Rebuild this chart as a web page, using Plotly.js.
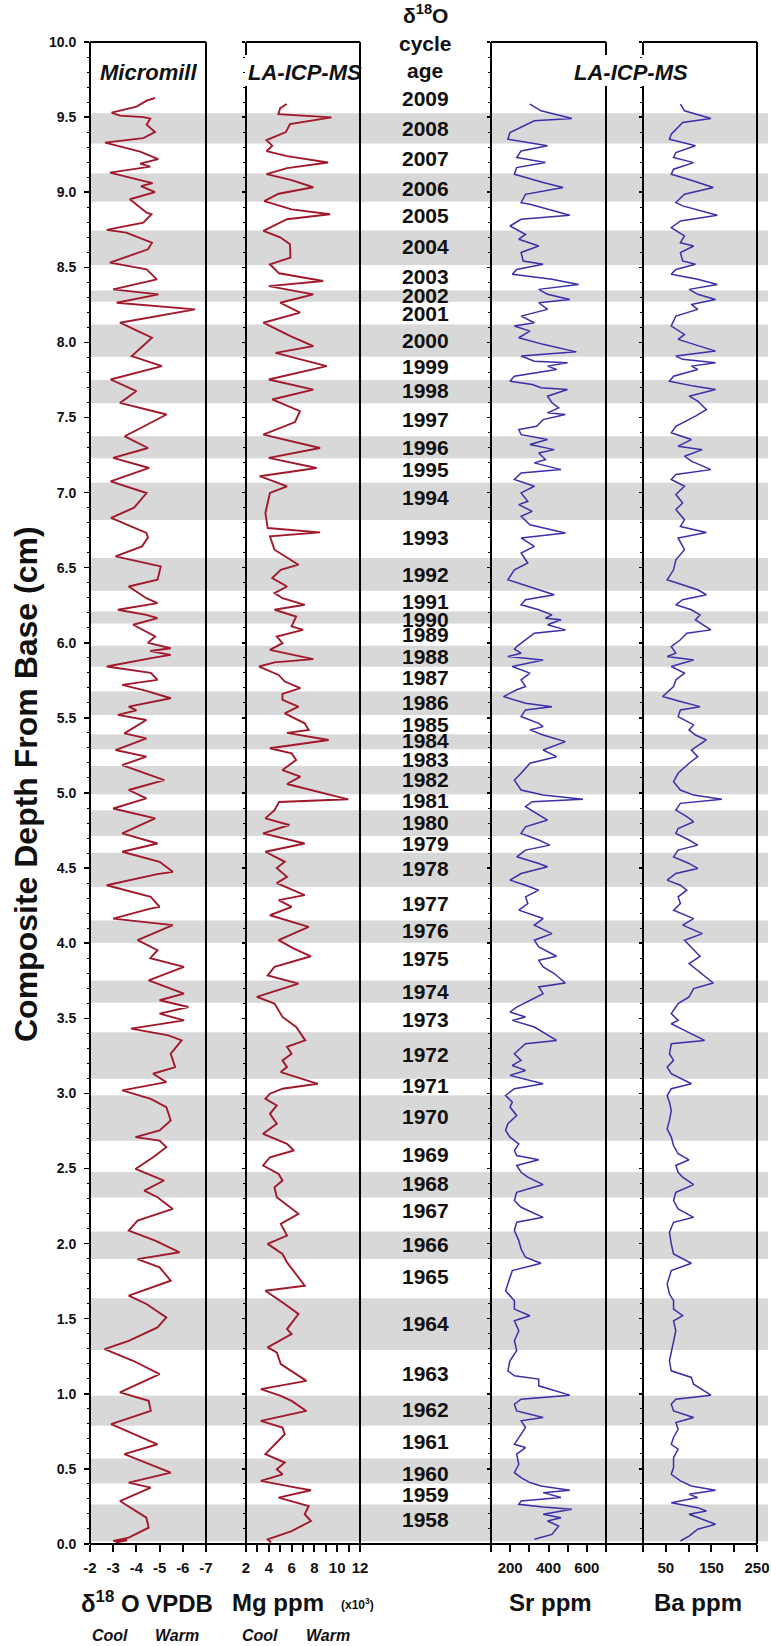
<!DOCTYPE html>
<html><head><meta charset="utf-8">
<script src="https://cdn.plot.ly/plotly-3.0.1.min.js"></script>
<style>html,body{margin:0;padding:0;background:#fff}#chart{width:771px;height:1646px}</style>
</head><body><div id="chart"></div>
<script>
// ---------------- data ----------------
const o18_depth = [
9.627,9.61,9.57,9.53,9.51,9.50,9.49,9.45,9.40,9.36,
9.33,9.27,9.22,9.19,9.17,9.13,9.08,9.06,9.04,9.00,
8.953,8.864,8.853,8.797,8.749,8.731,8.664,8.62,8.531,8.486,
8.42,8.353,8.32,8.264,8.22,8.131,8.031,7.909,7.842,7.753,
7.676,7.597,7.52,7.397,7.375,7.297,7.231,7.164,7.075,6.997,
6.90,6.831,6.731,6.70,6.642,6.575,6.509,6.42,6.375,6.297,
6.264,6.22,6.186,6.164,6.12,6.042,6.00,5.964,5.945,5.92,
5.90,5.842,5.80,5.753,5.72,5.68,5.631,5.575,5.55,5.52,
5.486,5.397,5.364,5.286,5.242,5.186,5.086,5.02,4.964,4.897,
4.831,4.731,4.664,4.609,4.542,4.475,4.46,4.386,4.309,4.242,
4.23,4.164,4.12,4.02,3.953,3.90,3.842,3.753,3.664,3.62,
3.575,3.531,3.486,3.431,3.386,3.353,3.264,3.175,3.131,3.075,
3.02,2.964,2.909,2.82,2.753,2.709,2.686,2.642,2.575,2.497,
2.42,2.353,2.309,2.231,2.153,2.087,2.02,1.942,1.897,1.842,
1.753,1.653,1.598,1.509,1.442,1.353,1.298,1.22,1.131,1.009,
0.953,0.886,0.798,0.664,0.598,0.475,0.409,0.375,0.286,0.175,
0.109,0.042,0.02,0.025,0.01];
const o18_value = [
-4.80,-4.44,-4.01,-2.93,-3.29,-4.30,-4.60,-4.44,-4.80,-4.30,
-2.65,-4.16,-4.94,-4.16,-4.60,-2.86,-4.16,-4.70,-4.20,-4.80,
-3.72,-4.44,-4.65,-4.30,-2.72,-3.56,-4.67,-4.50,-2.86,-4.44,
-4.88,-3.00,-4.95,-3.15,-6.53,-3.29,-4.67,-3.80,-5.10,-2.89,
-4.00,-3.29,-5.30,-3.80,-3.50,-4.50,-3.00,-4.55,-2.89,-4.44,
-3.90,-2.91,-4.43,-4.50,-4.24,-3.10,-5.05,-4.91,-3.67,-4.43,
-4.91,-3.20,-4.43,-4.91,-3.86,-4.81,-4.50,-5.48,-4.60,-5.48,
-4.70,-2.72,-4.62,-4.91,-3.39,-4.43,-5.48,-3.67,-4.00,-3.20,
-4.43,-3.48,-4.43,-3.10,-4.43,-3.39,-5.20,-3.67,-4.43,-3.00,
-4.81,-3.39,-4.91,-3.39,-5.00,-5.57,-4.90,-2.72,-4.62,-5.00,
-4.60,-3.00,-5.57,-4.05,-4.91,-4.60,-6.05,-4.53,-6.05,-5.00,
-6.24,-5.00,-6.05,-3.77,-5.38,-5.95,-5.48,-5.67,-4.72,-5.29,
-3.39,-4.62,-5.29,-5.48,-5.00,-3.96,-5.00,-5.29,-4.72,-3.96,
-5.19,-4.34,-4.91,-5.57,-4.05,-3.67,-4.81,-5.86,-4.05,-5.00,
-5.48,-3.67,-4.43,-5.29,-4.91,-3.67,-2.63,-3.86,-5.00,-3.29,
-4.53,-4.62,-2.91,-4.91,-3.48,-5.48,-3.67,-4.62,-3.29,-4.43,
-4.53,-3.67,-3.00,-3.60,-3.10];

const mg_depth = [
9.587,9.56,9.52,9.498,9.453,9.40,9.347,9.31,9.273,9.24,
9.198,9.16,9.12,9.08,9.033,8.99,8.94,8.886,8.853,8.82,
8.742,8.70,8.653,8.564,8.52,8.46,8.409,8.375,8.32,8.264,
8.198,8.131,8.042,7.975,7.93,7.842,7.753,7.686,7.62,7.542,
7.47,7.386,7.297,7.231,7.164,7.109,7.042,6.998,6.864,6.764,
6.735,6.709,6.62,6.52,6.486,6.431,6.375,6.331,6.297,6.253,
6.22,6.175,6.109,6.086,6.042,5.998,5.953,5.891,5.87,5.842,
5.786,5.742,5.698,5.66,5.62,5.575,5.53,5.464,5.42,5.40,
5.353,5.298,5.264,5.22,5.153,5.109,5.06,4.958,4.94,4.886,
4.831,4.787,4.731,4.664,4.609,4.542,4.50,4.442,4.40,4.32,
4.287,4.242,4.186,4.109,4.02,3.964,3.913,3.842,3.786,3.731,
3.642,3.598,3.509,3.442,3.353,3.31,3.264,3.22,3.175,3.142,
3.064,3.031,2.998,2.964,2.92,2.864,2.798,2.731,2.664,2.62,
2.575,2.52,2.464,2.42,2.375,2.309,2.198,2.131,2.053,1.998,
1.931,1.875,1.72,1.686,1.598,1.531,1.431,1.398,1.309,1.275,
1.198,1.086,1.031,0.986,0.953,0.886,0.82,0.775,0.731,0.598,
0.542,0.498,0.464,0.42,0.375,0.358,0.309,0.253,0.198,0.153,
0.086,0.031,0.01];
const mg_value = [
5.57,5.0,4.84,9.50,5.86,5.50,3.80,4.3,3.80,5.6,
9.20,5.6,3.80,6.0,7.90,4.86,3.6,6.0,9.37,5.6,
3.52,5.0,5.86,5.90,4.10,4.9,8.77,4.00,7.90,5.00,
6.74,3.52,5.90,7.90,4.60,9.08,4.00,7.90,4.30,6.74,
6.3,3.52,8.50,4.00,8.20,3.20,5.60,4.10,3.70,3.90,
8.50,4.10,4.50,6.60,5.05,4.30,5.60,4.50,5.20,7.15,
4.50,6.40,6.00,7.00,4.70,5.20,4.10,7.90,4.5,3.15,
4.86,5.40,6.77,5.2,5.20,6.60,5.4,7.15,7.50,5.6,
9.25,4.10,6.00,6.40,5.20,6.77,5.6,10.97,4.9,4.50,
3.70,5.80,3.50,7.15,3.70,5.40,4.7,5.60,4.7,7.15,
4.86,6.00,4.10,7.50,4.86,6.20,7.70,4.50,3.90,6.60,
2.95,4.50,5.20,6.40,7.2,5.6,6.0,5.2,5.6,5.05,
8.3,5.2,4.1,3.7,4.7,4.1,4.7,3.5,5.6,6.2,
4.1,3.5,4.86,5.2,4.5,4.7,6.6,5.05,5.6,3.9,
5.2,5.6,7.15,3.7,5.4,6.6,5.6,6.0,3.9,4.7,
5.05,7.3,3.3,5.05,6.0,7.3,3.3,5.2,5.4,3.7,
5.4,4.7,5.2,3.3,6.4,7.7,4.86,7.5,7.15,7.7,
6.0,3.9,4.2];

const sr_depth = [
9.586,9.542,9.491,9.475,9.397,9.353,9.309,9.275,9.231,9.197,
9.164,9.12,9.064,9.031,8.986,8.93,8.92,8.846,8.82,8.775,
8.72,8.687,8.642,8.598,8.542,8.52,8.486,8.453,8.42,8.386,
8.353,8.32,8.286,8.264,8.22,8.175,8.131,8.109,8.075,8.031,
7.987,7.937,7.909,7.875,7.864,7.842,7.82,7.775,7.742,7.72,
7.698,7.686,7.642,7.598,7.564,7.531,7.52,7.486,7.442,7.42,
7.386,7.353,7.32,7.286,7.264,7.22,7.198,7.153,7.131,7.087,
7.042,6.998,6.942,6.92,6.875,6.842,6.786,6.731,6.698,6.642,
6.598,6.531,6.486,6.42,6.353,6.32,6.287,6.253,6.22,6.186,
6.164,6.153,6.12,6.086,6.064,6.02,5.975,5.958,5.931,5.909,
5.886,5.842,5.798,5.753,5.709,5.687,5.642,5.598,5.575,5.553,
5.509,5.464,5.442,5.42,5.386,5.342,5.286,5.242,5.198,5.131,
5.086,5.02,4.986,4.958,4.942,4.909,4.864,4.82,4.775,4.731,
4.687,4.653,4.62,4.575,4.531,4.509,4.464,4.42,4.386,4.353,
4.309,4.264,4.22,4.164,4.12,4.064,4.02,3.975,3.913,3.886,
3.842,3.798,3.735,3.709,3.664,3.62,3.575,3.542,3.509,3.486,
3.442,3.353,3.331,3.264,3.22,3.186,3.153,3.12,3.064,3.031,
2.986,2.942,2.909,2.853,2.798,2.753,2.709,2.664,2.62,2.586,
2.558,2.52,2.475,2.442,2.393,2.342,2.287,2.242,2.175,2.142,
2.087,2.02,1.964,1.909,1.869,1.82,1.731,1.686,1.62,1.564,
1.52,1.486,1.42,1.353,1.287,1.22,1.153,1.12,1.098,1.053,
0.991,0.964,0.931,0.886,0.842,0.82,0.775,0.709,0.664,0.642,
0.598,0.531,0.475,0.442,0.409,0.386,0.358,0.342,0.309,0.287,
0.264,0.246,0.231,0.198,0.175,0.153,0.12,0.064,0.031];
const sr_value = [
303,361,522,326,199,188,395,257,234,384,
234,222,372,476,280,257,303,511,257,199,
280,245,349,257,268,372,234,211,418,557,
349,395,511,349,395,257,326,222,303,245,
372,545,257,326,499,395,442,222,199,315,
361,499,395,418,453,395,488,372,338,245,
257,395,303,430,349,384,326,465,257,222,
326,257,292,245,315,257,303,488,257,326,
257,292,222,188,349,430,280,257,349,418,
384,465,395,488,326,280,234,222,257,188,
372,211,303,257,280,234,165,280,418,280,
257,349,372,303,372,488,372,442,303,257,
222,257,372,580,315,280,338,395,280,257,
349,407,280,234,349,395,257,199,280,349,
280,292,245,372,326,418,326,349,442,349,
372,430,488,349,372,303,234,199,280,211,
326,442,280,222,257,211,280,199,372,222,
176,211,199,234,188,176,199,245,222,234,
349,234,257,292,372,234,222,257,372,234,
222,245,257,280,361,211,188,176,222,222,
303,222,245,222,234,199,188,222,349,349,
511,257,222,234,372,257,280,245,222,280,
234,245,222,257,303,361,511,372,465,257,
245,372,522,372,465,395,453,418,326];

const ba_depth = [
9.586,9.542,9.491,9.464,9.386,9.353,9.309,9.264,9.231,9.197,
9.153,9.12,9.075,9.031,8.986,8.931,8.909,8.846,8.809,8.764,
8.709,8.664,8.642,8.598,8.542,8.52,8.486,8.453,8.42,8.386,
8.353,8.32,8.286,8.253,8.22,8.175,8.109,8.053,8.02,7.942,
7.909,7.887,7.864,7.842,7.82,7.775,7.742,7.709,7.686,7.642,
7.609,7.553,7.509,7.442,7.398,7.353,7.309,7.286,7.242,7.209,
7.153,7.12,7.087,7.042,6.987,6.931,6.887,6.82,6.775,6.735,
6.698,6.62,6.553,6.486,6.42,6.353,6.32,6.287,6.253,6.22,
6.186,6.153,6.086,6.064,6.02,5.975,5.931,5.909,5.886,5.842,
5.798,5.753,5.709,5.642,5.609,5.575,5.553,5.509,5.453,5.42,
5.386,5.353,5.286,5.242,5.198,5.131,5.075,5.02,4.986,4.958,
4.931,4.886,4.842,4.809,4.764,4.731,4.687,4.653,4.62,4.575,
4.531,4.498,4.464,4.42,4.386,4.353,4.309,4.264,4.22,4.164,
4.12,4.064,4.02,3.975,3.913,3.864,3.82,3.735,3.698,3.642,
3.598,3.531,3.486,3.464,3.42,3.353,3.331,3.264,3.22,3.175,
3.131,3.064,3.031,2.986,2.942,2.886,2.82,2.764,2.709,2.653,
2.598,2.558,2.52,2.475,2.442,2.393,2.342,2.287,2.231,2.175,
2.142,2.075,1.998,1.931,1.869,1.82,1.731,1.664,1.62,1.564,
1.52,1.486,1.42,1.353,1.287,1.22,1.153,1.109,1.064,0.991,
0.964,0.931,0.886,0.842,0.809,0.764,0.709,0.664,0.631,0.575,
0.509,0.464,0.42,0.386,0.358,0.331,0.309,0.275,0.242,0.22,
0.198,0.164,0.131,0.098,0.053,0.02];
const ba_value = [
82,91,149,87,62,58,115,72,67,111,
67,62,111,154,91,72,87,163,82,62,
91,82,111,82,87,115,72,62,120,163,
101,120,159,106,120,72,62,91,77,159,
72,87,159,106,120,67,58,111,159,101,
120,139,115,72,62,106,77,130,91,106,
149,72,62,91,72,87,72,91,82,139,
77,91,72,67,53,120,139,87,72,106,
125,115,149,96,82,62,72,53,111,62,
91,72,67,43,82,125,82,77,111,101,
115,139,106,120,101,77,67,82,111,173,
82,72,96,111,77,72,101,120,77,67,
101,120,72,53,82,96,77,82,67,111,
87,130,91,106,125,101,120,154,111,101,
77,62,77,62,91,135,62,58,67,53,
62,106,62,53,58,62,58,53,62,67,
77,101,72,77,87,111,72,67,77,111,
67,58,62,67,106,62,53,58,67,67,
87,67,72,67,62,58,62,106,111,149,
72,62,67,111,72,77,67,62,77,67,
67,62,82,106,159,101,120,62,120,139,
101,130,159,120,101,82];

// grey bands (δ18O cycles), depth in cm
const band_top    = [9.525,9.125,8.745,8.345,8.12,7.75,7.375,7.065,6.565,6.209,5.98,5.676,5.391,5.18,4.885,4.603,4.151,3.751,3.407,2.987,2.476,2.08,1.636,0.987,0.569,0.263];
const band_bottom = [9.325,8.936,8.515,8.27,7.905,7.595,7.228,6.818,6.347,6.129,5.84,5.52,5.291,4.991,4.714,4.374,4.003,3.603,3.098,2.685,2.307,1.898,1.291,0.787,0.403,0.018];

// cycle age labels
const years = [2009,2008,2007,2006,2005,2004,2003,2002,2001,2000,1999,1998,1997,1996,1995,1994,1993,1992,1991,1990,1989,1988,1987,1986,1985,1984,1983,1982,1981,1980,1979,1978,1977,1976,1975,1974,1973,1972,1971,1970,1969,1968,1967,1966,1965,1964,1963,1962,1961,1960,1959,1958];
const year_depth = [9.625,9.425,9.225,9.025,8.847,8.636,8.44,8.314,8.191,8.014,7.84,7.68,7.485,7.303,7.151,6.965,6.698,6.458,6.276,6.158,6.054,5.907,5.769,5.603,5.458,5.347,5.225,5.087,4.947,4.803,4.663,4.496,4.263,4.085,3.898,3.676,3.491,3.258,3.051,2.847,2.591,2.403,2.218,1.996,1.78,1.465,1.136,0.898,0.685,0.469,0.329,0.165];

// axis ticks
const o18_ticks = [-2,-3,-4,-5,-6,-7];
const mg_ticks = [2,3,4,5,6,7,8,9,10,11,12];
const mg_labels = ['2','','4','','6','','8','','10','','12'];
const sr_ticks = [100,200,300,400,500,600,700];
const sr_labels = ['','200','','400','','600',''];
const ba_ticks = [0,50,100,150,200,250];
const ba_labels = ['','50','','150','','250'];

// ---------------- layout ----------------
const W = 771, H = 1646;
const px = x => x / W;
const py = y => 1 - y / H;
const FONT = 'Liberation Sans, Arial, Helvetica, sans-serif';
const RED = '#a0182a', BLUE = '#3a2fa8';
const TOP = 42, BOT = 1544;
const P = [[90,206],[246,360],[491,606],[643,757]];

function xax(i, range, tv, tt) {
  return {domain:[px(P[i][0]), px(P[i][1])], range: range, anchor: i===0?'y':'y'+(i+1),
    tickmode:'array', tickvals: tv, ticktext: tt, ticks:'outside', ticklen:7, tickwidth:2, tickcolor:'#000',
    showline:false, showgrid:false, zeroline:false, fixedrange:true,
    tickfont:{family:FONT, size:15, color:'#111', weight:'bold'}, ticklabelstandoff:3};
}
function yax(i) {
  return {domain:[py(BOT), py(TOP)], range:[0,10], anchor: i===0?'x':'x'+(i+1),
    tickmode:'linear', tick0:0, dtick:0.5, tickformat:'.1f', ticks:'outside', ticklen: i===0?5:3, tickwidth:1.5, tickcolor:'#000',
    minor:{dtick:0.1, ticks:'outside', ticklen:2.5, tickwidth:1, tickcolor:'#000'},
    showticklabels: i===0, showline:false, showgrid:false, zeroline:false, fixedrange:true,
    tickfont:{family:FONT, size:14, color:'#111', weight:'bold'}, ticklabelstandoff:5};
}

const traces = [
  {x:o18_value, y:o18_depth, xaxis:'x', yaxis:'y', mode:'lines', line:{color:RED, width:1.9}},
  {x:mg_value, y:mg_depth, xaxis:'x2', yaxis:'y2', mode:'lines', line:{color:RED, width:1.9}},
  {x:sr_value, y:sr_depth, xaxis:'x3', yaxis:'y3', mode:'lines', line:{color:BLUE, width:1.5}},
  {x:ba_value, y:ba_depth, xaxis:'x4', yaxis:'y4', mode:'lines', line:{color:BLUE, width:1.5}}
];

const shapes = [];
for (let i = 0; i < band_top.length; i++) {
  shapes.push({type:'rect', layer:'below', xref:'paper', yref:'y', x0:px(90), x1:px(768), y0:band_bottom[i], y1:band_top[i],
    fillcolor:'#d8d8d8', line:{width:0}});
}
function ln(x0,y0,x1,y1){ shapes.push({type:'line', xref:'paper', yref:'paper', x0:px(x0), y0:py(y0), x1:px(x1), y1:py(y1), line:{color:'#000', width:2}}); }
// frames
ln(90,TOP,206,TOP); ln(90,TOP,90,BOT); ln(206,TOP,206,BOT);
ln(246,TOP,360,TOP); ln(246,TOP,246,55); ln(246,86,246,BOT); ln(360,TOP,360,BOT);
ln(491,TOP,606,TOP); ln(491,TOP,491,BOT); ln(606,TOP,606,55); ln(606,86,606,BOT);
ln(643,TOP,757,TOP); ln(643,TOP,643,55); ln(643,86,643,BOT); ln(757,TOP,757,BOT);
ln(90,BOT,757,BOT);

const ann = [];
function txt(x, y, text, size, extra) {
  ann.push(Object.assign({xref:'paper', yref:'paper', x:px(x), y:py(y), text:text, showarrow:false,
    xanchor:'center', yanchor:'middle', font:{family:FONT, size:size, color:'#111'}}, extra||{}));
}
for (let i = 0; i < years.length; i++) {
  ann.push({xref:'paper', yref:'y', x:px(425), y:year_depth[i], text:'<b>'+years[i]+'</b>', showarrow:false,
    xanchor:'center', yanchor:'middle', font:{family:FONT, size:21, color:'#111'}});
}
txt(425, 14, '<b>δ<sup>18</sup>O</b>', 21);
txt(425, 43, '<b>cycle</b>', 21);
txt(425, 71, '<b>age</b>', 21);
txt(148.5, 73, '<b><i>Micromill</i></b>', 22);
txt(304.5, 72, '<b><i>LA-ICP-MS</i></b>', 22);
txt(631, 72, '<b><i>LA-ICP-MS</i></b>', 22);
txt(147, 1602, '<b>δ<sup>18</sup> O VPDB</b>', 24);
txt(278, 1602, '<b>Mg ppm</b>', 24);
txt(357, 1604, '<b>(x10<sup>3</sup>)</b>', 12);
txt(550, 1602, '<b>Sr ppm</b>', 24);
txt(698, 1602, '<b>Ba ppm</b>', 24);
txt(109.5, 1635, '<b><i>Cool</i></b>', 16);
txt(177, 1635, '<b><i>Warm</i></b>', 16);
txt(260, 1635, '<b><i>Cool</i></b>', 16);
txt(328, 1635, '<b><i>Warm</i></b>', 16);
txt(26, 784, '<b>Composite Depth From Base (cm)</b>', 32, {textangle:-90});

const layout = {
  width: W, height: H, margin:{l:0,r:0,t:0,b:0,pad:0}, autosize:false,
  paper_bgcolor:'#ffffff', plot_bgcolor:'rgba(0,0,0,0)', showlegend:false,
  font:{family:FONT, color:'#111'},
  xaxis: xax(0, [-2,-7], o18_ticks, o18_ticks.map(v => String(v))),
  xaxis2: xax(1, [2,12], mg_ticks, mg_labels),
  xaxis3: xax(2, [100,700], sr_ticks, sr_labels),
  xaxis4: xax(3, [0,250], ba_ticks, ba_labels),
  yaxis: yax(0), yaxis2: yax(1), yaxis3: yax(2), yaxis4: yax(3),
  shapes: shapes, annotations: ann
};
Plotly.newPlot('chart', traces, layout, {staticPlot:true, displayModeBar:false});
</script></body></html>
